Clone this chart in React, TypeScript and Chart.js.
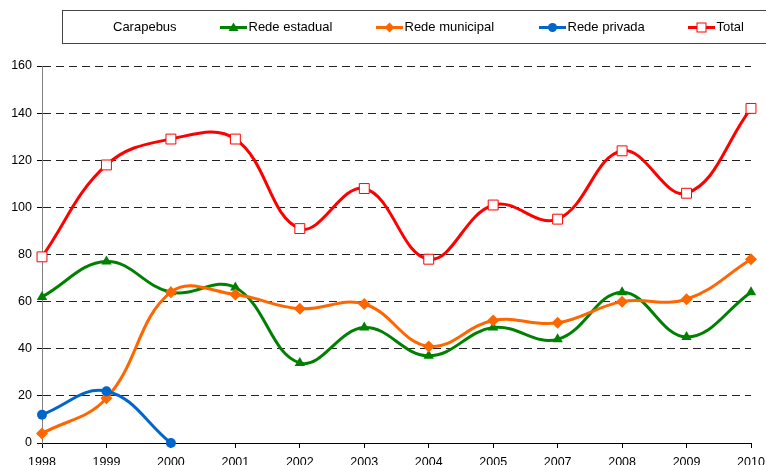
import React, { useEffect, useRef } from "react";
import { Chart, registerables } from "chart.js";

Chart.register(...registerables);

const categories = ["1998", "1999", "2000", "2001", "2002", "2003", "2004", "2005", "2007", "2008", "2009", "2010"];
const redeEstadual = [62, 77, 64, 66, 34, 49, 37, 49, 44, 64, 45, 64];
const redeMunicipal = [4, 19, 64, 63, 57, 59, 41, 52, 51, 60, 61, 78];
const redePrivada: (number | null)[] = [12, 22, 0, null, null, null, null, null, null, null, null, null];
const total = [79, 118, 129, 129, 91, 108, 78, 101, 95, 124, 106, 142];
const yTicks = [0, 20, 40, 60, 80, 100, 120, 140, 160];
const legendTitle = "Carapebus";

const FONT = "'Liberation Sans', Arial, sans-serif";

const GREEN = "#008000";
const ORANGE = "#FF6600";
const BLUE = "#0066CC";
const RED = "#FF0000";

const legendPlugin = {
  id: "customLegend",
  afterDraw(chart: any) {
    const ctx = chart.ctx as CanvasRenderingContext2D;
    ctx.save();
    ctx.fillStyle = "#fff";
    ctx.strokeStyle = "#444";
    ctx.lineWidth = 1;
    ctx.fillRect(62.5, 10.5, 720, 33);
    ctx.strokeRect(62.5, 10.5, 720, 33);
    ctx.font = `13px ${FONT}`;
    ctx.fillStyle = "#000";
    ctx.textBaseline = "middle";
    const cy = 27.5;
    ctx.fillText(legendTitle, 113, cy);
    const items = [
      { x: 220, label: "Rede estadual", color: GREEN, shape: "tri" },
      { x: 376, label: "Rede municipal", color: ORANGE, shape: "dia" },
      { x: 539, label: "Rede privada", color: BLUE, shape: "circ" },
      { x: 688, label: "Total", color: RED, shape: "sq" },
    ];
    for (const it of items) {
      ctx.strokeStyle = it.color;
      ctx.lineWidth = 3;
      ctx.beginPath();
      ctx.moveTo(it.x, cy);
      ctx.lineTo(it.x + 27, cy);
      ctx.stroke();
      const mx = it.x + 13.5;
      ctx.fillStyle = it.color;
      ctx.beginPath();
      if (it.shape === "tri") {
        ctx.moveTo(mx, cy - 5);
        ctx.lineTo(mx + 5, cy + 3.5);
        ctx.lineTo(mx - 5, cy + 3.5);
        ctx.closePath();
        ctx.fill();
      } else if (it.shape === "dia") {
        ctx.moveTo(mx, cy - 5);
        ctx.lineTo(mx + 5, cy);
        ctx.lineTo(mx, cy + 5);
        ctx.lineTo(mx - 5, cy);
        ctx.closePath();
        ctx.fill();
      } else if (it.shape === "circ") {
        ctx.arc(mx, cy, 4.5, 0, Math.PI * 2);
        ctx.fill();
      } else {
        ctx.fillStyle = "#fff";
        ctx.fillRect(mx - 4.5, cy - 4.5, 9, 9);
        ctx.lineWidth = 1;
        ctx.strokeRect(mx - 4.5, cy - 4.5, 9, 9);
      }
      ctx.fillStyle = "#000";
      ctx.fillText(it.label, it.x + 28.5, cy);
    }
    ctx.restore();
  },
};

export default function App() {
  const ref = useRef<HTMLCanvasElement>(null);
  useEffect(() => {
    document.body.style.margin = "0";
    document.body.style.overflow = "hidden";
    const chart = new Chart(ref.current as HTMLCanvasElement, {
      type: "line",
      data: {
        labels: categories,
        datasets: [
          {
            label: "Rede estadual",
            data: redeEstadual,
            borderColor: GREEN,
            backgroundColor: GREEN,
            borderWidth: 3,
            pointStyle: "triangle",
            pointRadius: 6,
            pointBorderWidth: 0,
            tension: 0.4,
            clip: false,
            order: 4,
          },
          {
            label: "Rede municipal",
            data: redeMunicipal,
            borderColor: ORANGE,
            backgroundColor: ORANGE,
            borderWidth: 3,
            pointStyle: "rectRot",
            pointRadius: 6,
            pointBorderWidth: 0,
            tension: 0.4,
            clip: false,
            order: 3,
          },
          {
            label: "Rede privada",
            data: redePrivada,
            borderColor: BLUE,
            backgroundColor: BLUE,
            borderWidth: 3,
            pointStyle: "circle",
            pointRadius: 5,
            pointBorderWidth: 0,
            tension: 0.4,
            spanGaps: false,
            clip: false,
            order: 2,
          },
          {
            label: "Total",
            data: total,
            borderColor: RED,
            backgroundColor: "#fff",
            borderWidth: 3,
            pointStyle: "rect",
            pointRadius: 7,
            pointBorderWidth: 1,
            pointBorderColor: RED,
            pointBackgroundColor: "#fff",
            tension: 0.4,
            clip: false,
            order: 1,
          },
        ],
      },
      options: {
        animation: false,
        responsive: false,
        maintainAspectRatio: false,
        layout: { padding: { left: 0, right: 0, top: 66, bottom: 0 } },
        plugins: { legend: { display: false }, tooltip: { enabled: false } },
        scales: {
          x: {
            type: "category",
            offset: false,
            grid: {
              drawOnChartArea: false,
              drawTicks: true,
              tickLength: 5,
              tickColor: "#000",
            },
            border: { color: "#000", width: 1 },
            ticks: {
              color: "#000",
              font: { family: FONT, size: 12.5 },
              padding: 7,
              maxRotation: 0,
              autoSkip: false,
            },
            afterFit: (s: any) => {
              s.height = 37;
              s.paddingRight = 15;
              s.paddingLeft = 0;
            },
          },
          y: {
            min: 0,
            max: 160,
            afterBuildTicks: (s: any) => {
              s.ticks = yTicks.map((v) => ({ value: v }));
            },
            grid: {
              color: "#222",
              lineWidth: 1,
              tickBorderDash: [],
              tickColor: "#000",
              tickLength: 5,
            },
            border: { color: "#808080", width: 1, dash: [8, 5] },
            ticks: {
              color: "#000",
              font: { family: FONT, size: 12.5 },
              padding: 5,
            },
            afterFit: (s: any) => {
              s.width = 42;
              s.paddingTop = 0;
              s.paddingBottom = 0;
            },
          },
        },
      },
      plugins: [legendPlugin],
    } as any);
    return () => chart.destroy();
  }, []);
  return (
    <div style={{ position: "fixed", left: 0, top: 0, width: 766, height: 465, overflow: "hidden", background: "#fff" }}>
      <canvas ref={ref} width={766} height={480} style={{ width: 766, height: 480, display: "block" }} />
    </div>
  );
}
